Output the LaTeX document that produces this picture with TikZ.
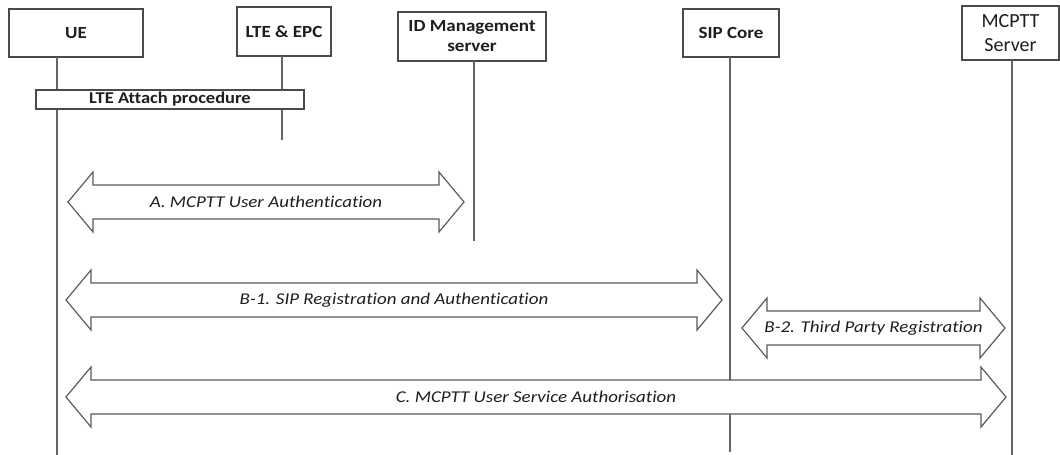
\documentclass[tikz,border=0pt]{standalone}
\usepackage{fontspec}
\usetikzlibrary{calc}
\setmainfont{Carlito}
\newfontfamily\boxfont[FakeStretch=1.12,Ligatures=NoCommon]{Carlito}
\newfontfamily\msgfont[FakeStretch=1.15,Ligatures=NoCommon]{Carlito}
\definecolor{edge}{HTML}{4A4A4A}
\definecolor{arrowedge}{HTML}{5A5A5A}
\definecolor{ink}{HTML}{1E1E1E}

% block double arrow between two named tip coordinates
\newcommand\blkarrow[2]{%
  \draw[blockarrow] (#1) -- ++(25,-30) -- ++(0,13) -- ($(#2)+(-25,-17)$)
    -- ++(0,-13) -- (#2) -- ++(-25,30) -- ++(0,-13) -- ($(#1)+(25,17)$)
    -- ++(0,13) -- cycle;}

\begin{document}
\begin{tikzpicture}[x=1pt,y=-1pt,
  entity/.style={draw=edge,line width=1.3pt,fill=white,inner sep=0pt,
    align=center,text=ink,font=\boxfont\bfseries\fontsize{17}{20}\selectfont},
  plainentity/.style={entity,font=\fontsize{20}{24}\selectfont},
  procbox/.style={draw=edge,line width=1.3pt,fill=white,inner sep=0pt,text=ink,
    font=\boxfont\bfseries\fontsize{16.5}{18}\selectfont},
  life/.style={draw=edge!85,line width=1.3pt},
  blockarrow/.style={draw=arrowedge,line width=1.2pt,fill=white,line join=miter},
  msg/.style={inner sep=0pt,text=ink,font=\msgfont\itshape\fontsize{16.5}{19}\selectfont}]

\useasboundingbox (0,0) rectangle (1060,455);

% participants
\node[entity,minimum width=134pt,minimum height=48pt] (ue) at (76,33) {UE};
\node[entity,minimum width=94pt,minimum height=49pt] (lte) at (284,31.5) {LTE \& EPC};
\node[entity,minimum width=148pt,minimum height=49pt] (idm) at (472,36.5) {ID Management\\server};
\node[entity,minimum width=96pt,minimum height=48pt] (sip) at (731,33) {SIP Core};
\node[plainentity,minimum width=97pt,minimum height=54pt] (mcptt) at (1010.5,33) {MCPTT\\Server};

% lifeline ends
\coordinate (ueTop) at (57,57);      \coordinate (ueBot) at (57,455);
\coordinate (lteTop) at (282,56);    \coordinate (lteBot) at (282,140);
\coordinate (idmTop) at (474,61);    \coordinate (idmBot) at (474,241);
\coordinate (sipTop) at (730,57);    \coordinate (sipBot) at (730,452);
\coordinate (mcTop) at (1012,60);    \coordinate (mcBot) at (1012,455);

\draw[life] (ueTop) -- (ueBot);
\draw[life] (lteTop) -- (lteBot);
\draw[life] (idmTop) -- (idmBot);
\draw[life] (sipTop) -- (sipBot);
\draw[life] (mcTop) -- (mcBot);

% attach procedure
\node[procbox,minimum width=268pt,minimum height=19pt] (attach) at (170,99.5) {LTE Attach procedure};

% message exchanges
\coordinate (aL) at (68,202);   \coordinate (aR) at (464,202);
\coordinate (b1L) at (66,300);  \coordinate (b1R) at (722,300);
\coordinate (b2L) at (742,328); \coordinate (b2R) at (1005,328);
\coordinate (cL) at (66,397);   \coordinate (cR) at (1006,397);

\blkarrow{aL}{aR}
\blkarrow{b1L}{b1R}
\blkarrow{b2L}{b2R}
\blkarrow{cL}{cR}

\node[msg] (aLbl) at ($(aL)!0.5!(aR)$) {A. MCPTT User Authentication};
\node[msg] (b1Lbl) at ($(b1L)!0.5!(b1R)$) {B-1. SIP Registration and Authentication};
\node[msg] (b2Lbl) at ($(b2L)!0.5!(b2R)$) {B-2. Third Party Registration};
\node[msg] (cLbl) at ($(cL)!0.5!(cR)$) {C. MCPTT User Service Authorisation};
\end{tikzpicture}
\end{document}
